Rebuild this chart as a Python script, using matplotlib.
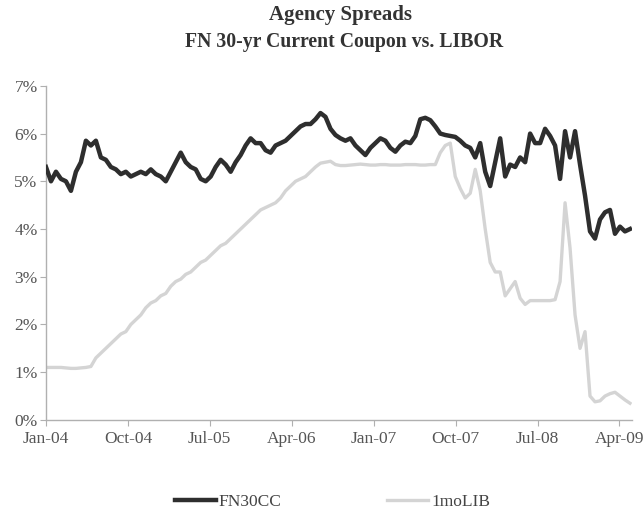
import numpy as np
import pandas as pd
import matplotlib
matplotlib.use("Agg")
import matplotlib.pyplot as plt
import matplotlib.dates as mdates
from matplotlib.ticker import FuncFormatter

fn30cc = [
    5.3, 5.0, 5.2, 5.05, 5.0, 4.8, 5.2, 5.4, 5.85, 5.75,
    5.85, 5.5, 5.45, 5.3, 5.25, 5.15, 5.2, 5.1, 5.15, 5.2,
    5.15, 5.25, 5.15, 5.1, 5.0, 5.2, 5.4, 5.6, 5.4, 5.3,
    5.25, 5.05, 5.0, 5.1, 5.3, 5.45, 5.35, 5.2, 5.4, 5.55,
    5.75, 5.9, 5.8, 5.8, 5.65, 5.6, 5.75, 5.8, 5.85, 5.95,
    6.05, 6.15, 6.2, 6.2, 6.3, 6.43, 6.35, 6.1, 5.97, 5.9,
    5.85, 5.9, 5.75, 5.65, 5.55, 5.7, 5.8, 5.9, 5.85, 5.7,
    5.62, 5.75, 5.83, 5.8, 5.95, 6.3, 6.33, 6.28, 6.15, 6.0,
    5.97, 5.95, 5.93, 5.85, 5.75, 5.7, 5.5, 5.8, 5.2, 4.9,
    5.4, 5.9, 5.1, 5.35, 5.3, 5.5, 5.4, 6.0, 5.8, 5.8,
    6.1, 5.95, 5.75, 5.05, 6.05, 5.5, 6.05, 5.35, 4.7, 3.95,
    3.8, 4.2, 4.35, 4.4, 3.9, 4.05, 3.95, 4.0,
]
libor_1m = [
    1.1, 1.1, 1.1, 1.1, 1.09, 1.08, 1.08, 1.09, 1.1, 1.12,
    1.3, 1.4, 1.5, 1.6, 1.7, 1.8, 1.85, 2.0, 2.1, 2.2,
    2.35, 2.45, 2.5, 2.6, 2.65, 2.8, 2.9, 2.95, 3.05, 3.1,
    3.2, 3.3, 3.35, 3.45, 3.55, 3.65, 3.7, 3.8, 3.9, 4.0,
    4.1, 4.2, 4.3, 4.4, 4.45, 4.5, 4.55, 4.65, 4.8, 4.9,
    5.0, 5.05, 5.1, 5.2, 5.3, 5.38, 5.4, 5.42, 5.35, 5.33,
    5.33, 5.34, 5.35, 5.36, 5.35, 5.34, 5.34, 5.35, 5.35, 5.34,
    5.34, 5.34, 5.35, 5.35, 5.35, 5.34, 5.34, 5.35, 5.35, 5.6,
    5.75, 5.8, 5.1, 4.85, 4.65, 4.75, 5.25, 4.8, 4.0, 3.3,
    3.1, 3.1, 2.6, 2.75, 2.9, 2.55, 2.42, 2.5, 2.5, 2.5,
    2.5, 2.5, 2.52, 2.9, 4.55, 3.6, 2.2, 1.5, 1.85, 0.5,
    0.38, 0.4, 0.5, 0.55, 0.58, 0.5, 0.42, 0.35,
]
dates = pd.date_range("2004-01-01", "2009-05-06", periods=len(fn30cc))

tick_dates = ["2004-01-01", "2004-10-01", "2005-07-01", "2006-04-01",
              "2007-01-01", "2007-10-01", "2008-07-01", "2009-04-01"]
y_ticks = [0, 1, 2, 3, 4, 5, 6, 7]

plt.rcParams["font.family"] = ["Liberation Serif", "DejaVu Serif"]

fig = plt.figure(figsize=(6.43, 5.14), dpi=100)
ax = fig.add_axes([0.0715, 0.183, 0.911, 0.65])

ax.plot(dates, libor_1m, color="#d4d4d4", lw=2.4, label="1moLIB", zorder=2)
ax.plot(dates, fn30cc, color="#2e2e2e", lw=3.2, label="FN30CC", zorder=3)

ax.set_ylim(0, 7)
ax.set_yticks(y_ticks)
ax.yaxis.set_major_formatter(FuncFormatter(lambda v, p: f"{v:.0f}%"))
ax.set_xlim(pd.Timestamp("2004-01-01"), pd.Timestamp("2009-05-12"))
ax.set_xticks(pd.to_datetime(tick_dates))
ax.xaxis.set_major_formatter(mdates.DateFormatter("%b-%y"))

for s in ["top", "right"]:
    ax.spines[s].set_visible(False)
for s in ["left", "bottom"]:
    ax.spines[s].set_color("#b0b0b0")
    ax.spines[s].set_linewidth(1.0)
ax.tick_params(axis="both", colors="#b0b0b0", labelcolor="#555555",
               labelsize=12.5, length=4, direction="out")
ax.tick_params(axis="y", pad=2)
ax.tick_params(axis="x", pad=4)

fig.text(0.530, 0.970, "Agency Spreads", ha="center", va="center",
         fontsize=15, fontweight="bold", color="#333333")
fig.text(0.535, 0.918, "FN 30-yr Current Coupon vs. LIBOR", ha="center",
         va="center", fontsize=14.2, fontweight="bold", color="#333333")

handles, labels = ax.get_legend_handles_labels()
fig.legend(handles[::-1], labels[::-1], loc="center", ncol=2, frameon=False,
           bbox_to_anchor=(0.517, 0.024), fontsize=12.5, handlelength=2.36,
           handletextpad=0.17, columnspacing=6.1, labelcolor="#444444")

fig.savefig("out.png", dpi=100)
